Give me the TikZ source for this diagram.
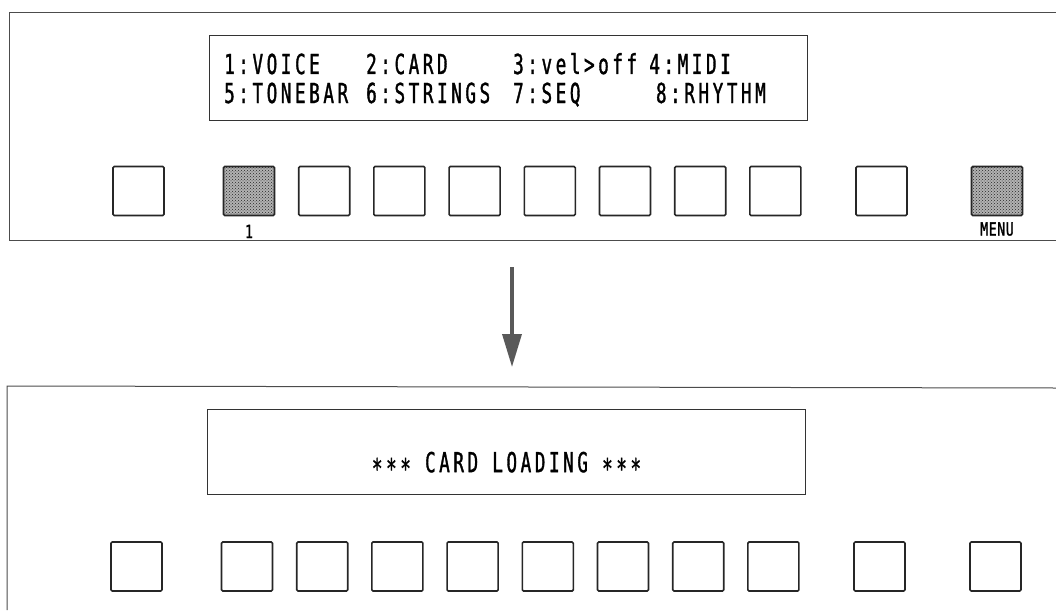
\documentclass[tikz,border=0pt]{standalone}
\usepackage{fontspec}
\newfontfamily\lcdfont[FakeStretch=0.64,LetterSpace=13,FakeBold=1.2]{DejaVu Sans Mono}
\newfontfamily\keyfont[FakeStretch=0.72,LetterSpace=4,FakeBold=1.5]{DejaVu Sans Mono}
\usetikzlibrary{arrows.meta,patterns}

\begin{document}
\begin{tikzpicture}[x=1pt, y=-1pt,
      panel/.style={draw=black!70, line width=1pt},
      lcd/.style={draw=black!80, line width=0.9pt, minimum width=598pt,
                  minimum height=85pt, inner sep=0pt},
      lcdtext/.style={anchor=base west, inner sep=0pt,
                      font=\lcdfont\fontsize{27.5}{30}\selectfont},
      pad/.style={draw=black!85, line width=1.6pt, rounded corners=1.2pt,
                  minimum width=51pt, minimum height=49pt, inner sep=0pt},
      padlit/.style={pad, preaction={fill=black!30}, pattern=crosshatch dots,
                     pattern color=black!85},
      padlabel/.style={anchor=base, inner sep=0pt,
                       font=\keyfont\fontsize{18}{20}\selectfont},
      arr/.style={-{Triangle[length=33pt,width=19pt]}, line width=3.5pt, black!65}
    ]
    \useasboundingbox (0,0) rectangle (1056,610);

    % upper panel: menu page
    \draw[panel] (1056,13) -- (9,13) -- (9,240) -- (1056,240);
    \node[lcd] (lcdup) at (508,77.5) {};
    \node[lcdtext] (m1) at (224,74) {1:VOICE};
    \node[lcdtext] (m2) at (366,74) {2:CARD};
    \node[lcdtext] (m3) at (513,74) {3:vel>off};
    \node[lcdtext, anchor=base east] (m4) at (731,74) {4:MIDI};
    \node[lcdtext] (m5) at (224,103) {5:TONEBAR};
    \node[lcdtext] (m6) at (366,103) {6:STRINGS};
    \node[lcdtext] (m7) at (513,103) {7:SEQ};
    \node[lcdtext, anchor=base east] (m8) at (766,103) {8:RHYTHM};

    \node[pad] (up0) at (138.5,191) {};
    \foreach \i in {1,...,8} {
      \ifnum\i=1
        \node[padlit] (up\i) at ({249+75.2*(\i-1)},191) {};
      \else
        \node[pad] (up\i) at ({249+75.2*(\i-1)},191) {};
      \fi
    }
    \node[pad] (up9) at (881.5,191) {};
    \node[padlit] (upmenu) at (997,191) {};
    \node[padlabel] (lbl1) at (up1 |- 0,238) {1};
    \node[padlabel] (lblmenu) at (upmenu |- 0,235.5) {MENU};

    % transition
    \coordinate (arrfrom) at (512,267);
    \coordinate (arrto) at (512,367);
    \draw[arr] (arrfrom) -- (arrto);

    % lower panel: loading message
    \draw[panel] (1056,388) -- (7,386) -- (7,610);
    \node[lcd] (lcdlo) at (506.5,451.5) {};
    \node[lcdtext, anchor=center] (msg) at (506.5,465)
      {\raisebox{-0.22em}{***} CARD LOADING \raisebox{-0.22em}{***}};

    \node[pad] (lo0) at (136.5,566.5) {};
    \foreach \i in {1,...,8} {
      \node[pad] (lo\i) at ({247+75.2*(\i-1)},566.5) {};
    }
    \node[pad] (lo9) at (879.5,566.5) {};
    \node[pad] (lomenu) at (995.5,566.5) {};
  \end{tikzpicture}
\end{document}
